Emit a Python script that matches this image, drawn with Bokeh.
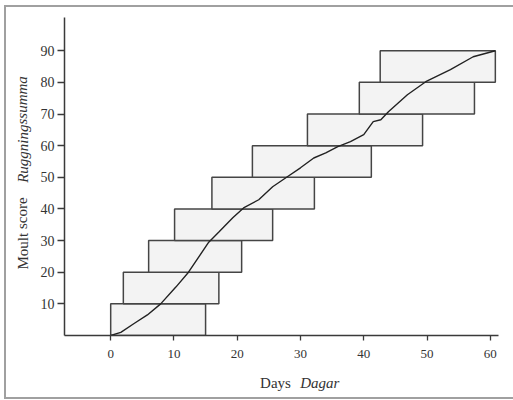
from bokeh.plotting import figure
from bokeh.models import Range1d, Label, FixedTicker
from bokeh.layouts import row, column
from bokeh.embed import file_html
from bokeh.resources import INLINE

# Data
box_score_low = [0, 10, 20, 30, 40, 50, 60, 70, 80]
box_score_high = [10, 20, 30, 40, 50, 60, 70, 80, 90]
box_day_start = [0, 2.0, 6.0, 10.1, 16.0, 22.4, 31.1, 39.3, 42.6]
box_day_end = [15.0, 17.1, 20.7, 25.6, 32.2, 41.2, 49.3, 57.5, 60.8]

curve_days = [0, 1.6, 3.7, 5.8, 7.9, 10.3, 12.3, 15.5, 17.1, 19.3, 21.0, 23.4, 25.6,
              28.1, 30.0, 32.1, 34.0, 35.9, 37.9, 40.0, 41.5, 42.7, 43.9, 46.9,
              49.8, 53.7, 57.3, 60.8]
curve_score = [0, 1, 3.8, 6.5, 10, 15.3, 20, 29.5, 32.7, 37.2, 40.3, 42.9, 47.0,
               50.4, 53, 56.1, 57.7, 59.7, 61.3, 63.5, 67.6, 68.2, 70.7, 76.1,
               80.2, 84, 88.1, 90]

x_ticks = [0, 10, 20, 30, 40, 50, 60]
y_ticks = [10, 20, 30, 40, 50, 60, 70, 80, 90]

x_title = ["Days", "Dagar"]
y_title = ["Moult score", "Ruggningssumma"]

FONT = "Liberation Serif"
DARK = "#3a3a3a"
TXT = "#333333"

LW, MW, MH, BH = 30, 477, 361, 29

# main chart
p = figure(width=MW, height=MH, output_backend="svg", toolbar_location=None,
           x_range=Range1d(-7.3, 61.3), y_range=Range1d(0, 100.5),
           min_border_left=28, min_border_right=15, min_border_top=10,
           min_border_bottom=33)
p.outline_line_color = None
p.grid.visible = False

p.quad(left=box_day_start, right=box_day_end, bottom=box_score_low, top=box_score_high,
       fill_color="#f3f3f3", line_color="#454545", line_width=1.5)
p.line(curve_days, curve_score, line_color="#222222", line_width=1.4)

for ax in (p.xaxis[0], p.yaxis[0]):
    ax.axis_line_color = DARK
    ax.axis_line_width = 1.5
    ax.major_tick_line_color = DARK
    ax.major_tick_line_width = 1.3
    ax.minor_tick_line_color = None
    ax.major_tick_in = 0
    ax.major_label_text_font = FONT
    ax.major_label_text_color = TXT

p.xaxis[0].ticker = FixedTicker(ticks=x_ticks)
p.xaxis[0].major_tick_out = 5
p.xaxis[0].major_label_standoff = 9
p.xaxis[0].major_label_text_font_size = "13px"

p.yaxis[0].ticker = FixedTicker(ticks=y_ticks)
p.yaxis[0].major_tick_out = 7
p.yaxis[0].major_label_standoff = 3
p.yaxis[0].major_label_text_font_size = "14px"


def blank(w, h):
    f = figure(width=w, height=h, output_backend="svg", toolbar_location=None,
               x_range=Range1d(0, w), y_range=Range1d(0, h),
               x_axis_location=None, y_axis_location=None, min_border=0)
    f.outline_line_color = None
    f.grid.visible = False
    return f


def lab(f, x, y, text, style, angle=0, align="left"):
    f.add_layout(Label(x=x, y=y, text=text, text_font=FONT, text_font_size="15px",
                       text_font_style=style, text_color=TXT, angle=angle,
                       text_align=align, text_baseline="middle"))


# bottom strip with x title
b = blank(MW, BH)
lab(b, 215, 15, x_title[0], "normal")
lab(b, 259, 15, x_title[1], "italic")

# left strip with y title
l = blank(LW, MH + BH)
lab(l, 16, 164, y_title[0], "normal", angle=1.5708, align="center")
lab(l, 16, 268, y_title[1], "italic", angle=1.5708, align="center")

layout = row(l, column(p, b, spacing=0), spacing=0)
layout.styles = {"margin-left": "4px", "margin-top": "5px",
                 "border-left": "2px solid #a0a0a0", "border-top": "2px solid #a0a0a0",
                 "border-bottom": "2px solid #a0a0a0"}

open("out.html", "w").write(file_html(layout, INLINE))
